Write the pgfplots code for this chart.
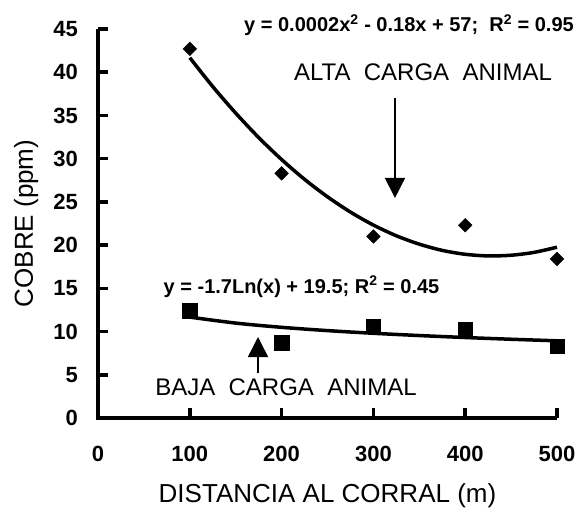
\documentclass[border=0pt]{standalone}
\usepackage{pgfplots}
\pgfplotsset{compat=1.18}
\usepackage{fontspec}
\setmainfont{Liberation Sans}
\usetikzlibrary{arrows.meta}

\pgfplotstableread{
x y
100 42.7
200 28.3
300 21.0
400 22.3
500 18.4
}\alta

\pgfplotstableread{
x y
100 12.4
200 8.7
300 10.6
400 10.3
500 8.3
}\baja

\begin{document}
\begin{tikzpicture}
\begin{axis}[
    scale only axis,
    width=459pt, height=389pt,
    xmin=0, xmax=500, ymin=0, ymax=45,
    xtick={0,100,...,500}, ytick={0,5,...,45},
    axis lines=left,
    axis line style={-, line width=4.5pt, black},
    tick align=inside,
    major tick length=10pt,
    major tick style={black, line width=3.5pt},
    unbounded coords=jump,
    ticklabel style={font=\fontsize{22}{26}\selectfont\bfseries,
        /pgf/number format/assume math mode=true},
    xticklabel style={anchor=base, inner sep=0pt, yshift=-43pt},
    yticklabel style={anchor=east, inner sep=0pt, xshift=-20pt},
    xlabel={DISTANCIA AL CORRAL (m)},
    ylabel={COBRE (ppm)},
    label style={font=\fontsize{26}{30}\selectfont},
    xlabel style={at={(axis description cs:0.5,0)}, anchor=base, yshift=-84pt},
    ylabel style={at={([xshift=-65pt]axis description cs:0,0.5)}, anchor=base},
    clip=false,
]
% ejes gruesos y marcas (trazados como en la figura original)
\addplot[black, line width=4.5pt, line join=miter] coordinates {(0,45) (0,0) (500,0)};
\addplot[black, line width=3.5pt] coordinates {
 (0,5) (10.9,5) (nan,nan) (0,10) (10.9,10) (nan,nan) (0,15) (10.9,15) (nan,nan)
 (0,20) (10.9,20) (nan,nan) (0,25) (10.9,25) (nan,nan) (0,30) (10.9,30) (nan,nan)
 (0,35) (10.9,35) (nan,nan) (0,40) (10.9,40) (nan,nan) (0,45) (10.9,45) (nan,nan)
 (100,0) (100,1.16) (nan,nan) (200,0) (200,1.16) (nan,nan) (300,0) (300,1.16) (nan,nan)
 (400,0) (400,1.16) (nan,nan) (500,0) (500,1.16)};
% curvas de tendencia
\addplot[black, line width=3.5pt, smooth] coordinates {
 (100,41.68) (125,38.34) (150,35.27) (175,32.45) (200,29.90) (225,27.61)
 (250,25.59) (275,23.82) (300,22.32) (325,21.08) (350,20.11) (375,19.39)
 (400,18.94) (425,18.75) (450,18.83) (475,19.16) (500,19.76)};
\addplot[black, line width=3.5pt, smooth] coordinates {
 (100,11.67) (150,10.98) (200,10.49) (250,10.11) (300,9.80)
 (350,9.54) (400,9.31) (450,9.11) (500,8.93)};
% puntos
\addplot[only marks, mark=square*, mark size=4.8pt,
    mark options={black, line width=0.5pt, rotate=45}] table {\alta};
\addplot[only marks, mark=square*, mark size=7.2pt,
    mark options={black, line width=0.5pt}] table {\baja};
% anotaciones
\node[font=\fontsize{20}{24}\selectfont\bfseries, anchor=base] at (axis cs:338.8,44.69)
  {y = 0.0002x\textsuperscript{2} - 0.18x + 57;\ \ R\textsuperscript{2} = 0.95};
\node[font=\fontsize{24}{28}\selectfont, anchor=base] at (axis cs:354,39.1)
  {ALTA\ \ CARGA\ \ ANIMAL};
\draw[line width=1.5pt, -{Triangle[length=20pt,width=20pt]}]
  (axis cs:323.5,37) -- (axis cs:323.5,25.45);
\node[font=\fontsize{20}{24}\selectfont\bfseries, anchor=base] at (axis cs:221.7,14.46)
  {y = -1.7Ln(x) + 19.5; R\textsuperscript{2} = 0.45};
\node[font=\fontsize{24}{28}\selectfont, anchor=base] at (axis cs:204.8,2.55)
  {BAJA\ \ CARGA\ \ ANIMAL};
\draw[line width=1.5pt, -{Triangle[length=20pt,width=20pt]}]
  (axis cs:174.3,5.2) -- (axis cs:174.3,9.37);
\end{axis}
% margen blanco como en la figura original
\path (-98pt,-90pt) rectangle (486pt,418pt);
\end{tikzpicture}
\end{document}
